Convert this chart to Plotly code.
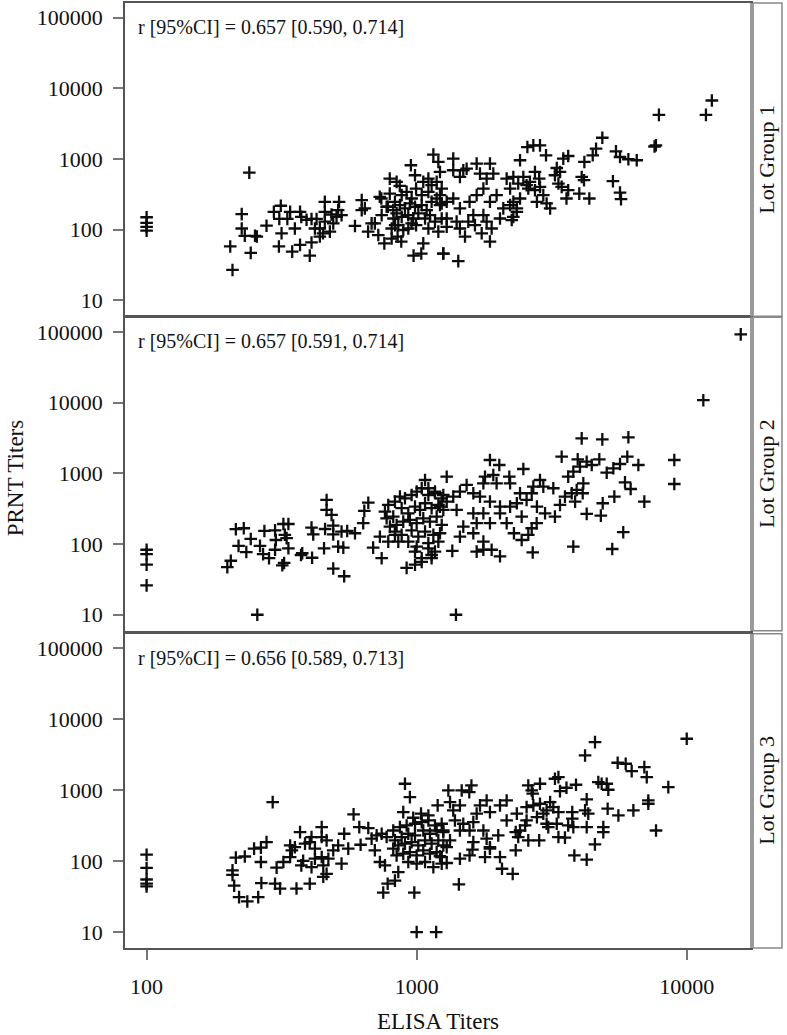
import plotly.graph_objects as go

# ---------------- data (ELISA titer, PRNT titer) ----------------
elisa_lot1 = [
    100, 100, 100, 100,
    240, 225, 225, 231, 204, 208, 243, 252, 256, 278,
    296, 314, 310, 340, 332, 316, 309, 354, 346, 370,
    374, 370, 402, 391, 408, 426, 420, 438, 408, 438,
    450, 457, 457, 457, 477, 484, 505, 516, 512, 527,
    491, 591, 626, 626, 643, 661, 681, 700, 721, 759,
    730, 740, 795, 843, 866, 795, 783, 821, 832, 808,
    850, 877, 952, 986, 1058, 1105, 1153, 1203, 1220, 974,
    1040, 1058, 1255,
    880, 918, 958, 995, 1044, 1105, 1136, 1186, 1238, 831,
    867, 905, 944, 986, 1044, 1089, 1136, 1186, 1238, 843,
    880, 931, 971, 1014, 1074, 1120, 1169, 808, 855, 892,
    958, 995, 1105, 1238, 1203, 819, 774, 742, 931,
    12390, 11780, 7889, 7690, 7600, 4869, 4616, 4487, 4178, 5470,
    5662, 6080, 6530, 5330, 5662, 5710, 4084, 4166, 4000, 4358,
    3491, 3640, 3302, 3394, 3251, 3349, 3443, 3640, 3587, 2570,
    2704, 2862, 3013, 2414, 2742, 2842, 2627, 2862, 2742, 2944,
    3028, 3120, 2788, 2154, 2280, 2377, 2483, 2553, 2590, 2414,
    2280, 2349, 2249, 2218, 1868, 1922, 1668, 1531, 1366, 1366,
    1446, 1488, 1716, 1816, 1220, 1292, 1366, 1446, 1570, 1668,
    1766, 1868, 1977, 2093, 2218, 2349, 1621, 1766, 2035, 2280,
    1292, 1406, 1553, 1446, 1644, 1816, 1510, 1741, 1868, 1895,
    1292, 1220, 1255, 1426,
]
prnt_lot1 = [
    150, 125, 110, 97,
    641, 166, 104, 82, 58, 27, 47, 82, 80, 114,
    179, 218, 142, 179, 142, 89, 58, 104, 49, 179,
    152, 61, 43, 138, 142, 142, 104, 104, 66, 80,
    89, 248, 179, 130, 94, 164, 152, 248, 189, 161,
    123, 113, 262, 189, 200, 94, 123, 123, 84, 64,
    292, 276, 528, 474, 417, 324, 211, 144, 116, 75,
    80, 68, 815, 589, 474, 528, 1151, 908, 656, 43,
    46, 64, 46,
    308, 343, 276, 382, 308, 343, 426, 474, 382, 248,
    223, 200, 235, 211, 223, 189, 248, 276, 235, 170,
    152, 161, 144, 170, 144, 161, 130, 104, 116, 99,
    123, 116, 104, 144, 94, 189, 211, 161, 104,
    6714, 4207, 4207, 1560, 1500, 1995, 1396, 1127, 908, 1282,
    1067, 991, 960, 485, 335, 270, 557, 501, 324, 276,
    1010, 1101, 746, 656, 589, 449, 403, 362, 276, 1475,
    1555, 1555, 1127, 960, 656, 528, 474, 403, 362, 308,
    235, 200, 248, 528, 557, 449, 557, 426, 382, 276,
    248, 200, 137, 382, 860, 621, 860, 729, 1010, 693,
    557, 693, 621, 528, 308, 248, 276, 200, 248, 308,
    382, 248, 308, 200, 223, 179, 161, 161, 144, 152,
    144, 130, 130, 104, 116, 130, 80, 89, 68, 104,
    110, 223, 46, 36,
]

elisa_lot2 = [
    100, 100, 100, 100,
    199, 205, 214, 229, 219, 234, 243, 263, 270, 284,
    273, 299, 301, 299, 321, 335, 325, 330, 335, 318, 323,
    373, 377, 410, 454, 408, 414, 458, 491, 491, 527,
    553, 591, 512, 535, 491, 539, 464, 464, 484, 257,
    634, 662, 640, 690, 742, 731, 785, 831, 855, 918,
    986, 1044, 1136, 1169, 1105, 1203, 1074, 1105, 1169, 1255,
    763, 785, 831, 867, 905, 958, 1000, 1044, 1105, 1169,
    1238, 774, 819, 880, 931, 986, 1029, 1074, 1136, 1203,
    1255, 796, 843, 892, 944, 1000, 1058, 1120, 1186, 1238,
    831, 880, 958, 1014, 1074, 1153, 1220, 986, 1044, 1105,
    1136, 931, 1000,
    15850, 11520, 4084, 4869, 6080, 3443, 3948, 4262, 4449, 4746,
    5055, 5349, 5662, 6025, 6621, 8995, 8995, 6966, 6200, 5908,
    5394, 4886, 4808, 4262, 5820, 5300, 3802, 3640, 3802, 4025,
    4141, 3914, 3861, 4120, 3751, 3541, 3394, 3251, 2988, 2782,
    2667, 2590, 2448, 2292, 2448, 2690, 2035, 1895, 1766, 1668,
    1355, 1766, 1398,
    1868, 2023, 2483, 1791, 1922, 2203, 1766, 1977, 2218, 2414,
    2667, 2862, 2944, 3206, 2704, 2349, 2553, 2788, 2218, 2035,
    1868, 1716, 1621, 1531, 1446, 1366, 1292, 1292, 1406, 1220,
    1621, 1766, 1868, 1488, 1621, 2154, 2035, 1446, 1668,
]
prnt_lot2 = [
    83, 72, 51, 26,
    47, 58, 162, 167, 94, 77, 118, 94, 72, 63,
    153, 156, 114, 83, 192, 192, 135, 121, 87, 50, 54,
    70, 74, 64, 87, 171, 137, 163, 182, 137, 150,
    153, 142, 92, 89, 45, 35, 420, 303, 258, 10,
    197, 384, 294, 89, 63, 127, 108, 135, 108, 46,
    51, 56, 63, 78, 103, 108, 804, 614, 550, 493,
    287, 357, 397, 467, 443, 493, 550, 614, 493, 522,
    443, 231, 244, 321, 272, 338, 303, 377, 321, 357,
    303, 176, 186, 207, 219, 197, 231, 207, 244, 186,
    150, 135, 156, 127, 150, 135, 142, 78, 63, 87,
    70, 108, 92,
    92000, 10800, 3120, 3020, 3225, 1716, 1577, 1459, 1310, 1577,
    1020, 1177, 1353, 1716, 1310, 1541, 706, 397, 600, 746,
    467, 377, 252, 267, 147, 85, 92, 895, 1053, 1240,
    722, 581, 397, 522, 522, 467, 357, 244, 272, 197,
    167, 135, 114, 142, 244, 76, 67, 83, 83, 78,
    80, 108, 10,
    1541, 1310, 1150, 895, 946, 895, 722, 722, 722, 522,
    522, 804, 647, 614, 647, 377, 420, 338, 338, 338,
    397, 467, 522, 684, 550, 467, 895, 397, 303, 338,
    272, 272, 197, 176, 142, 197, 272, 127, 197,
]

elisa_lot3 = [
    100, 100, 100, 100, 100,
    293, 214, 231, 208, 208, 211, 220, 236, 259, 265,
    266, 250, 265, 278, 299, 312, 303, 321, 340, 359,
    402, 340, 345, 354, 370, 386, 402, 408, 420, 380,
    374, 408, 420, 445, 445, 464, 445, 451, 464, 451,
    471, 491, 512, 527, 539, 558, 584, 613, 620, 662,
    681, 711, 742, 774, 700, 731, 763, 752, 781, 831,
    855, 905, 944, 892, 971, 1038, 1105, 1196, 980, 1000,
    1181,
    819, 867, 918, 986, 1044, 1105, 1169, 1238, 831, 880,
    931, 986, 1058, 1120, 1186, 1255, 819, 855, 905, 958,
    1014, 1074, 1136, 1203, 1255, 843, 892, 944, 1000, 1058,
    1120, 1186, 1238, 931, 1000, 1074, 1153, 1238,
    10000, 4575, 4203, 5550, 5943, 6255, 6966, 7112, 8547, 7207,
    7207, 6345, 5584, 7697, 4706, 4842, 5055, 5124, 4262, 3890,
    3587, 3394, 3251, 3349, 2862, 2590, 2690, 2667,
    4262, 4203, 4320, 3768, 3768, 3640, 3302, 3349, 3120, 3028,
    3071, 3349, 3541, 2842, 2590, 2414, 2377, 2327, 2005, 1868,
    1868, 1816, 1791, 2035, 2070, 2268, 1609, 1570, 1446, 1433,
    1292, 1220, 1292, 1621, 1570, 1766, 1668, 1868, 2035, 2154,
    1816, 1716, 1446, 1329, 1310, 1468, 1566, 1595, 1366, 1386,
    1488, 1255, 1329, 1446, 1621, 2154, 2349, 2553, 2704, 2862,
    3028, 2553, 2788, 2944, 3206, 2520, 2327, 3802, 4571, 3836,
    4262, 4910, 4910, 5096,
]
prnt_lot3 = [
    123, 80, 55, 48, 44,
    678, 112, 116, 74, 64, 45, 31, 27, 31, 97,
    49, 150, 155, 185, 48, 41, 81, 97, 114, 41,
    48, 166, 142, 157, 256, 176, 185, 218, 150, 101,
    87, 82, 108, 301, 218, 196, 114, 87, 66, 60,
    108, 142, 166, 92, 243, 150, 455, 301, 170, 292,
    207, 230, 243, 218, 142, 97, 87, 36, 48, 53,
    70, 1230, 797, 490, 408, 466, 440, 609, 36, 10,
    10,
    270, 301, 318, 336, 354, 374, 318, 336, 196, 218,
    243, 230, 270, 243, 270, 256, 150, 166, 176, 185,
    166, 196, 176, 196, 166, 120, 127, 134, 120, 142,
    127, 134, 114, 97, 92, 97, 82, 92,
    5300, 4745, 3080, 2432, 2355, 1852, 2109, 1524, 1102, 716,
    643, 518, 440, 270, 1296, 1230, 1230, 1013, 740, 1191,
    1081, 968, 1447, 1524, 1230, 1165, 890, 990,
    301, 518, 466, 490, 396, 318, 336, 490, 678, 336,
    301, 218, 214, 196, 196, 270, 218, 142, 230, 157,
    150, 207, 114, 114, 78, 66, 145, 120, 108, 47,
    94, 117, 157, 185, 270, 270, 466, 490, 609, 716,
    716, 609, 609, 678, 990, 990, 937, 1165, 518, 374,
    336, 270, 196, 270, 354, 374, 466, 577, 609, 643,
    518, 374, 417, 466, 577, 318, 256, 301, 172, 120,
    105, 301, 256, 547,
]

lot_labels = ["Lot Group 1", "Lot Group 2", "Lot Group 3"]
corr_labels = [
    "r [95%CI] = 0.657 [0.590, 0.714]",
    "r [95%CI] = 0.657 [0.591, 0.714]",
    "r [95%CI] = 0.656 [0.589, 0.713]",
]
y_tick_vals = [10, 100, 1000, 10000, 100000]
y_tick_text = ["10", "100", "1000", "10000", "100000"]
x_tick_vals = [100, 1000, 10000]
x_tick_text = ["100", "1000", "10000"]

# ---------------- figure ----------------
FONT = "Liberation Serif, Times New Roman, serif"
TXT = "#111111"
LINE = "#555555"

series = [(elisa_lot1, prnt_lot1), (elisa_lot2, prnt_lot2), (elisa_lot3, prnt_lot3)]
domains = [[0.6684, 1.0], [0.3358, 0.6674], [0.0, 0.3326]]

fig = go.Figure()
for i, (xs, ys) in enumerate(series):
    sfx = "" if i == 0 else str(i + 1)
    fig.add_trace(go.Scatter(
        x=xs, y=ys, mode="markers",
        marker=dict(symbol="cross-thin", size=9,
                    line=dict(width=2.3, color="#0d0d0d")),
        xaxis="x" + sfx, yaxis="y" + sfx, showlegend=False,
        hoverinfo="x+y",
    ))

layout = dict(
    width=787, height=1035,
    margin=dict(l=125, r=36, t=1, b=87),
    paper_bgcolor="white", plot_bgcolor="white",
    font=dict(family=FONT, color=TXT),
    showlegend=False,
)

for i in range(3):
    sfx = "" if i == 0 else str(i + 1)
    last = (i == 2)
    layout["xaxis" + sfx] = dict(
        type="log", range=[1.92, 4.238], domain=[0, 1],
        anchor="y" + sfx,
        showgrid=False, zeroline=False,
        showline=True, mirror=True, linecolor=LINE, linewidth=1.5,
        ticks="outside" if last else "", ticklen=10, tickwidth=1.5, tickcolor="#777777",
        tickvals=x_tick_vals, ticktext=x_tick_text,
        showticklabels=last, ticklabelstandoff=8,
        tickfont=dict(family=FONT, size=22, color=TXT),
    )
    layout["yaxis" + sfx] = dict(
        type="log", range=[0.775, 5.205], domain=domains[i],
        anchor="x" + sfx,
        showgrid=False, zeroline=False,
        showline=True, mirror=True, linecolor=LINE, linewidth=1.5,
        ticks="outside", ticklen=10, tickwidth=1.5, tickcolor="#777777",
        tickvals=y_tick_vals, ticktext=y_tick_text,
        ticklabelstandoff=6,
        tickfont=dict(family=FONT, size=22, color=TXT),
    )

fig.update_layout(**layout)

shapes = []
annotations = []
for i in range(3):
    sfx = "" if i == 0 else str(i + 1)
    d0, d1 = domains[i]
    # strip box on right
    shapes.append(dict(type="rect", xref="paper", yref="paper",
                       x0=1.0016, x1=1.0495, y0=d0, y1=d1,
                       line=dict(color="#888888", width=1.5),
                       fillcolor="white", layer="below"))
    shapes.append(dict(type="line", xref="paper", yref="paper",
                       x0=1.0016, x1=1.0016, y0=d0, y1=d1,
                       line=dict(color="#9a9a9a", width=4)))
    annotations.append(dict(text=lot_labels[i], xref="paper", yref="paper",
                            x=1.0256, y=(d0 + d1) / 2, textangle=-90,
                            showarrow=False, xanchor="center", yanchor="middle",
                            font=dict(family=FONT, size=22, color=TXT)))
    annotations.append(dict(text=corr_labels[i],
                            xref=("x" + sfx + " domain"), yref=("y" + sfx + " domain"),
                            x=0.018, y=0.924, xanchor="left", yanchor="middle",
                            showarrow=False,
                            font=dict(family=FONT, size=20, color=TXT)))

annotations.append(dict(text="PRNT Titers", xref="paper", yref="paper",
                        x=-0.1757, y=0.497, textangle=-90, showarrow=False,
                        xanchor="center", yanchor="middle",
                        font=dict(family=FONT, size=23, color=TXT)))
annotations.append(dict(text="ELISA Titers", xref="paper", yref="paper",
                        x=0.5, y=-0.078, showarrow=False,
                        xanchor="center", yanchor="middle",
                        font=dict(family=FONT, size=23, color=TXT)))

fig.update_layout(shapes=shapes, annotations=annotations)
fig.write_html("out.html",
               config={"displayModeBar": False},
               post_script="document.body.style.margin='0px';document.body.style.overflow='hidden';")
